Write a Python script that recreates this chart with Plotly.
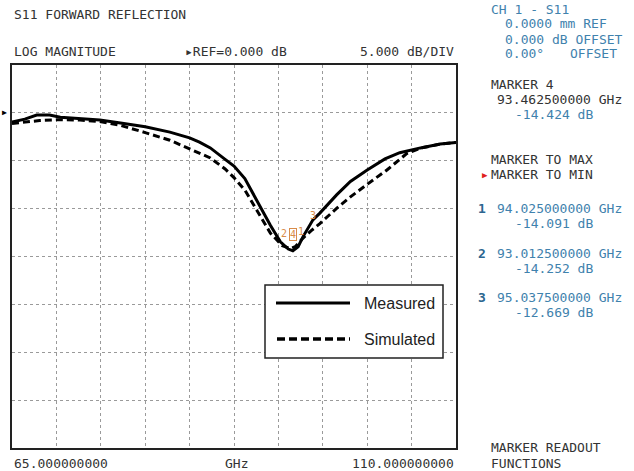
import plotly.graph_objects as go

W, H = 634, 471

# ---------------- data ----------------
freq_meas = [65.0, 66.3, 67.5, 68.8, 69.9, 71.9, 73.9, 76.0, 78.5, 81.0, 83.0, 84.0,
             85.1, 86.6, 87.5, 88.6, 89.6, 90.3, 91.2, 92.2, 93.0, 93.46, 94.0, 94.5,
             95.5, 96.2, 97.9, 99.3, 101.0, 102.8, 104.3, 106.4, 108.4, 110.0]
s11_meas = [-1.0, -0.7, -0.28, -0.28, -0.5, -0.65, -0.8, -1.1, -1.5, -2.05, -2.65, -3.1,
            -3.7, -4.9, -5.6, -6.9, -8.8, -10.0, -11.8, -13.5, -14.25, -14.42, -14.0, -12.95,
            -11.2, -10.5, -8.6, -7.2, -6.0, -4.85, -4.2, -3.7, -3.3, -3.13]

freq_sim = [65.0, 67.8, 69.9, 71.9, 73.9, 76.0, 78.5, 81.0, 83.0, 85.1, 86.6, 87.5,
            88.6, 89.9, 91.2, 92.4, 93.2, 93.7, 94.5, 95.3, 96.2, 97.9, 99.3, 101.0,
            103.0, 105.0, 106.4, 108.4, 110.0]
s11_sim = [-1.15, -0.85, -0.75, -0.8, -0.95, -1.35, -2.1, -2.9, -3.8, -4.75, -5.9, -6.8,
           -8.1, -10.3, -12.6, -13.9, -14.2, -14.0, -13.1, -12.35, -11.6, -10.0, -8.8, -7.5,
           -6.0, -4.3, -3.72, -3.3, -3.13]

marker_ids = ["1", "2", "3", "4"]
marker_freq = [94.025, 93.0125, 95.0375, 93.4625]
marker_db = [-14.091, -14.252, -12.669, -14.424]

x_ticks = [65 + 4.5 * i for i in range(11)]
y_ticks = [5 - 5 * i for i in range(9)]

# ---------------- layout helpers ----------------
PL, PR, PT, PB = 12, 456, 64.5, 448


def px(x):
    return x / W


def py(y):
    return 1 - y / H


MONO = "DejaVu Sans Mono"
DARK = "#333333"
BLUE = "#3f82ad"
NAVY = "#2d6690"
ORANGE = "#d98c4a"

fig = go.Figure()
fig.add_trace(go.Scatter(x=freq_meas, y=s11_meas, mode="lines", name="Measured",
                         line=dict(color="black", width=3), showlegend=False))
fig.add_trace(go.Scatter(x=freq_sim, y=s11_sim, mode="lines", name="Simulated",
                         line=dict(color="black", width=3, dash="7px,4px"), showlegend=False))

annotations = []


def txt(text, x, y, color=DARK, size=13, anchor="left", family=MONO, bold=False):
    t = f"<b>{text}</b>" if bold else text
    annotations.append(dict(text=t, x=px(x), y=py(y), xref="paper", yref="paper",
                            xanchor=anchor, yanchor="middle", showarrow=False,
                            font=dict(family=family, size=size, color=color)))


# header
txt("S11 FORWARD REFLECTION", 12, 15)
txt("LOG MAGNITUDE", 12, 52)
txt("▸REF=0.000 dB", 183, 52)
txt("5.000 dB/DIV", 456, 52, anchor="right")
txt("▶", 0, 112.7, color="black", size=8)

# right panel
txt("CH 1 - S11", 489, 10, color=BLUE)
txt("0.0000 mm REF", 503, 24, color=BLUE)
txt("0.000 dB OFFSET", 503, 40, color=BLUE)
txt("0.00°", 503, 54, color=BLUE)
txt("OFFSET", 619, 54, color=BLUE, anchor="right")
txt("MARKER 4", 489, 85)
txt("93.462500000 GHz", 495, 100)
txt("-14.424 dB", 513, 115, color=BLUE)
txt("MARKER TO MAX", 489, 160)
txt("▶", 480, 175, color="#e02020", size=9)
txt("MARKER TO MIN", 489, 175)

txt("1", 476, 208, color=NAVY, bold=True)
txt("94.025000000 GHz", 495, 208, color=BLUE)
txt("-14.091 dB", 513, 223, color=BLUE)
txt("2", 476, 253, color=NAVY, bold=True)
txt("93.012500000 GHz", 495, 253, color=BLUE)
txt("-14.252 dB", 513, 268, color=BLUE)
txt("3", 476, 297, color=NAVY, bold=True)
txt("95.037500000 GHz", 495, 297, color=BLUE)
txt("-12.669 dB", 513, 312, color=BLUE)

txt("MARKER READOUT", 489, 447)
txt("FUNCTIONS", 489, 463)

# bottom axis labels
txt("65.000000000", 12, 463)
txt("GHz", 236, 463, anchor="center")
txt("110.000000000", 456, 463, anchor="right")

# marker labels on the trace
for mid, mf, mdb in zip(marker_ids, marker_freq, marker_db):
    shift = 16
    xs = 0
    if mid == "2":
        xs = -4
    if mid == "1":
        xs = 3
    if mid == "3":
        xs = 5
        shift = 18
    ann = dict(text=mid, x=mf, y=mdb, xref="x", yref="y", showarrow=False,
               xshift=xs, yshift=shift, font=dict(family=MONO, size=10, color=ORANGE))
    if mid == "4":
        ann.update(bordercolor=ORANGE, borderwidth=1, borderpad=0)
    annotations.append(ann)

# manual legend
shapes = [
    dict(type="rect", xref="paper", yref="paper", x0=px(265), x1=px(443), y0=py(358), y1=py(285),
         line=dict(color="#222222", width=1.5), fillcolor="white", layer="above"),
    dict(type="line", xref="paper", yref="paper", x0=px(276), x1=px(350), y0=py(303), y1=py(303),
         line=dict(color="black", width=3), layer="above"),
    dict(type="line", xref="paper", yref="paper", x0=px(277), x1=px(350), y0=py(339), y1=py(339),
         line=dict(color="black", width=3.5, dash="8px,4px"), layer="above"),
]
legend_font = "Liberation Sans"
for name, yy in [("Measured", 303), ("Simulated", 339)]:
    annotations.append(dict(text=name, x=px(362), y=py(yy), xref="paper", yref="paper",
                            xanchor="left", yanchor="middle", showarrow=False,
                            font=dict(family=legend_font, size=16, color="#222222")))

fig.update_layout(
    width=W, height=H,
    margin=dict(l=0, r=0, t=0, b=0),
    paper_bgcolor="white", plot_bgcolor="white",
    xaxis=dict(domain=[px(PL), px(PR)], range=[65, 110], tickvals=x_ticks, showticklabels=False,
               ticks="", showgrid=True, gridcolor="#9a9a9a", gridwidth=1, griddash="dot",
               zeroline=False, showline=True, mirror=True, linecolor="#222222", linewidth=1.5),
    yaxis=dict(domain=[py(PB), py(PT)], range=[-35, 5], tickvals=y_ticks, showticklabels=False,
               ticks="", showgrid=True, gridcolor="#9a9a9a", gridwidth=1, griddash="dot",
               zeroline=False, showline=True, mirror=True, linecolor="#222222", linewidth=1.5),
    annotations=annotations,
    shapes=shapes,
    showlegend=False,
)

fig.write_html("out.html", config={"displayModeBar": False},
               post_script="document.body.style.margin='0';document.body.style.overflow='hidden';")
